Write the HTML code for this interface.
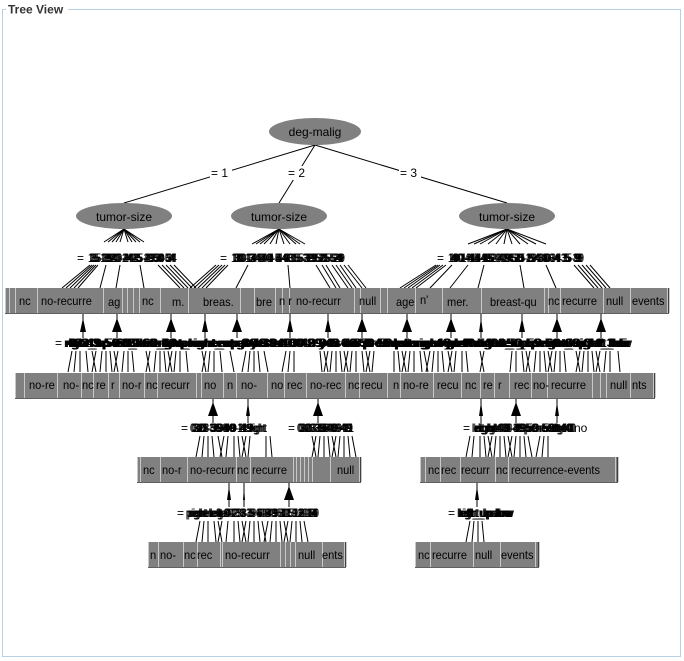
<!DOCTYPE html>
<html><head><meta charset="utf-8">
<style>
html,body{margin:0;padding:0;background:#fff;width:684px;height:661px;overflow:hidden}
svg{position:absolute;left:0;top:0}
text{font-family:"Liberation Sans",sans-serif}
</style></head><body>
<svg id="s" width="684" height="661" xmlns="http://www.w3.org/2000/svg">
<rect x="2.5" y="9.5" width="678" height="647" fill="none" stroke="#b8d0e4"/>
<rect x="6" y="2" width="62" height="14" fill="#fff"/>
<text x="8" y="13.5" font-size="12" font-weight="bold" fill="#333">Tree View</text>
<g id="lines" stroke="#000" stroke-width="1" fill="none"></g>
<g id="boxes"></g>
<g id="arrows" fill="#000"></g>
<ellipse cx="315" cy="131.5" rx="46" ry="13.5" fill="#808080"/>
<text x="315" y="136" font-size="12" text-anchor="middle">deg-malig</text>
<ellipse cx="124" cy="216" rx="48" ry="13" fill="#808080"/>
<text x="124" y="221" font-size="12" text-anchor="middle">tumor-size</text>
<ellipse cx="279" cy="216" rx="48" ry="13" fill="#808080"/>
<text x="279" y="221" font-size="12" text-anchor="middle">tumor-size</text>
<ellipse cx="507" cy="216" rx="48" ry="13" fill="#808080"/>
<text x="507" y="221" font-size="12" text-anchor="middle">tumor-size</text>
<g font-size="12" fill="#000">
<rect x="210" y="166" width="22" height="14" fill="#fff"/><text x="211" y="177">= 1</text>
<rect x="288" y="166" width="20" height="14" fill="#fff"/><text x="288" y="177">= 2</text>
<rect x="399" y="166" width="22" height="14" fill="#fff"/><text x="400" y="177">= 3</text>
</g>
<g id="lbl" font-size="12" fill="#000">
<text x="77" y="262">=</text>
<text x="88" y="262" textLength="87" lengthAdjust="spacingAndGlyphs">15-1920-2425-2930-34</text>
<text x="90" y="262" textLength="84" lengthAdjust="spacingAndGlyphs">35-3940-4445-4950-54</text>
<text x="220" y="262">=</text>
<text x="231" y="262" textLength="112" lengthAdjust="spacingAndGlyphs">10-14 0-4 5-9 15-19 25-29</text>
<text x="233" y="262" textLength="108" lengthAdjust="spacingAndGlyphs">30-3440-4435-3950-54</text>
<text x="437" y="262">=</text>
<text x="448" y="262" textLength="134" lengthAdjust="spacingAndGlyphs">10-1415-1920-24 25-29 30-34 35-39</text>
<text x="450" y="262" textLength="130" lengthAdjust="spacingAndGlyphs">40-4445-4950-54 0-4 5-9</text>
<text x="55" y="347">=</text>
<text x="64" y="347" textLength="566" lengthAdjust="spacingAndGlyphs">right_up left_low right_low central yes no 30-39 40-49 50-59 premeno ge40 lt40 left_up right_up left_low</text>
<text x="66" y="347" textLength="562" lengthAdjust="spacingAndGlyphs">40-49 50-59 60-69 premeno ge40 lt40 0-2 3-5 6-8 9-11 left right yes no left_up central right_low</text>
<text x="68" y="347" textLength="558" lengthAdjust="spacingAndGlyphs">0-2 3-5 6-8 left_low right_up 30-39 40-49 yes no premeno ge40 left right 50-59 60-69 0-2 3-5</text>
<text x="181" y="432">=</text>
<text x="190" y="432" textLength="75" lengthAdjust="spacingAndGlyphs">0-23-56-8 9-11 right</text>
<text x="192" y="432" textLength="60" lengthAdjust="spacingAndGlyphs">30-3940-49</text>
<text x="288" y="432">=</text>
<text x="297" y="432" textLength="55" lengthAdjust="spacingAndGlyphs">0-23-56-89-11</text>
<text x="299" y="432" textLength="52" lengthAdjust="spacingAndGlyphs">30-3940-49</text>
<text x="463" y="432">=</text>
<text x="472" y="432" textLength="102" lengthAdjust="spacingAndGlyphs">left right 30-39 premeno ge40</text>
<text x="474" y="432" textLength="98" lengthAdjust="spacingAndGlyphs">right40-4950-59lt40</text>
<text x="574" y="432">no</text>
<text x="177" y="517">=</text>
<text x="186" y="517" textLength="131" lengthAdjust="spacingAndGlyphs">premeno ge40 30-39 40-49 50-59 60-69</text>
<text x="188" y="517" textLength="128" lengthAdjust="spacingAndGlyphs">right left 0-2 3-5 6-8 9-11 12-14</text>
<text x="448" y="517">=</text>
<text x="457" y="517" textLength="55" lengthAdjust="spacingAndGlyphs">left_up low</text>
<text x="459" y="517" textLength="52" lengthAdjust="spacingAndGlyphs">right_lowlow</text>
</g>
<g id="btxt" font-size="12" fill="#000">
<text x="19" y="305">nc</text><text x="41" y="305">no-recurre</text><text x="108" y="306">ag</text>
<text x="142" y="305">nc</text><text x="172" y="306">m.</text><text x="203" y="306">breas.</text>
<text x="256" y="306">bre</text><text x="279" y="305">n r</text><text x="296" y="305">no-recurr</text>
<text x="359" y="305">null</text><text x="396" y="306">age</text><text x="420" y="304">n'</text>
<text x="447" y="306">mer.</text><text x="490" y="306">breast-qu</text><text x="548" y="305">nc</text>
<text x="562" y="305">recurre</text><text x="606" y="305">null</text><text x="632" y="305">events</text>
<text x="29" y="389">no-re</text><text x="63" y="389">no-</text><text x="82" y="389">nc</text>
<text x="96" y="389">re</text><text x="111" y="389">r</text><text x="122" y="389">no-r</text>
<text x="146" y="389">nc</text><text x="161" y="389">recurr</text><text x="204" y="389">no</text>
<text x="227" y="389">n</text><text x="241" y="389">no-</text><text x="271" y="389">no</text>
<text x="287" y="389">rec</text><text x="310" y="389">no-rec</text><text x="348" y="389">nc</text>
<text x="361" y="389">recu</text><text x="393" y="389">n</text><text x="403" y="389">no-re</text>
<text x="437" y="389">recu</text><text x="465" y="389">nc</text><text x="483" y="389">re</text>
<text x="498" y="389">r</text><text x="514" y="389">rec</text><text x="533" y="389">no-</text>
<text x="551" y="389">recurre</text><text x="610" y="389">null</text><text x="632" y="389">nts</text>
<text x="143" y="474">nc</text><text x="162" y="474">no-r</text><text x="190" y="474">no-recurr</text>
<text x="237" y="474">nc</text><text x="252" y="474">recurre</text><text x="337" y="474">null</text>
<text x="428" y="474">nc</text><text x="441" y="474">rec</text><text x="461" y="474">recurr</text>
<text x="496" y="474">nc</text><text x="511" y="474">recurrence-events</text>
<text x="150" y="559">n</text><text x="160" y="559">no-</text><text x="184" y="559">nc</text>
<text x="197" y="559">rec</text><text x="225" y="559">no-recurr</text><text x="298" y="559">null</text>
<text x="322" y="559">ents</text>
<text x="418" y="559">nc</text><text x="432" y="559">recurre</text><text x="475" y="559">null</text>
<text x="501" y="559">events</text>
</g>
</svg>
<script>
var NS="http://www.w3.org/2000/svg";
function el(p,t,a){var e=document.createElementNS(NS,t);for(var k in a)e.setAttribute(k,a[k]);document.getElementById(p).appendChild(e);return e;}
function ln(x1,y1,x2,y2){el("lines","line",{x1:x1,y1:y1,x2:x2,y2:y2});}
ln(315,145,124,203);ln(315,145,279,203);ln(315,145,507,203);
function fan(cx,cy,xs,y){xs.forEach(function(x){ln(cx,cy,x,y);});}
fan(124,229,[104,108,112,116,120,128,132,136,140,144],242);
fan(279,229,[252,256,260,264,270,276,284,290,296,300,305],244);
fan(507,229,[468,474,480,488,496,504,512,520,528,536,546],244);
function seg(pairs,y1,y2){pairs.forEach(function(p){ln(p[0],y1,p[1],y2);});}
seg([[90,62],[92,66],[94,70],[96,74],[98,78],[106,100],[120,116],[140,144],[158,180],[162,184],[166,188],[170,192],[174,196]],265,288);
seg([[216,190],[219,194],[222,198],[225,202],[228,206],[248,236],[288,290],[316,330],[322,336],[326,340],[332,348],[336,352],[340,356],[344,362],[348,366]],265,288);
seg([[436,400],[438,404],[440,408],[443,412],[446,416],[452,430],[468,450],[484,478],[520,524],[546,556],[574,594],[578,598],[582,602],[586,606],[590,610]],265,288);
var xs3=[72,76,80,86,92,96,102,106,110,114,118,124,128,132,146,150,156,160,164,168,172,176,180,186,202,206,210,214,220,230,246,250,254,258,264,286,290,294,320,324,328,332,336,340,344,348,352,356,362,366,370,374,394,398,402,406,410,414,420,424,430,434,438,442,448,452,456,462,466,480,484,512,516,522,526,530,536,540,544,548,552,556,560,564,576,580,584,588,592,596,600,606,610,618];
xs3.forEach(function(x,i){var d=((i%5)-2)*2;ln(x,351,x+d,372);});
var xs4=[200,204,208,212,218,224,228,234,238,242,246,250,266,270,312,316,320,324,328,332,336,340,344,348,352,470,474,480,484,488,492,496,500,504,508,512,516,520,524,528,540,544,548];
xs4.forEach(function(x,i){var d=((i%5)-2)*2;ln(x,436,x+d,457);});
var xs5=[200,204,208,214,218,222,228,234,238,242,246,250,254,258,262,268,272,276,280,284,288,292,296,300,304,470,474,478,482];
xs5.forEach(function(x,i){var d=((i%5)-2)*2;ln(x,521,x+d,542);});
[83,117,171,205,237,290,328,362,407,451,481,522,557,601].forEach(function(x){ln(x,313,x,338);});
[213,248,318,481,516,557].forEach(function(x){ln(x,398,x,423);});
[229,244,289,477].forEach(function(x){ln(x,482,x,507);});
function arr(x,y,w,h){el("arrows","polygon",{points:(x-w)+","+(y+h)+" "+x+","+y+" "+(x+w)+","+(y+h)});}
[[83,3],[117,5],[171,5],[205,3],[237,5],[290,3],[328,3],[362,5],[407,5],[451,5],[481,2],[522,3],[557,5],[601,5]].forEach(function(a){arr(a[0],318,a[1],14);});
[[213,5],[248,2],[318,5],[481,2],[516,5],[557,2]].forEach(function(a){arr(a[0],402,a[1],14);});
[[229,2],[244,1],[289,5],[477,2]].forEach(function(a){arr(a[0],486,a[1],14);});
function row(y,h,segs){
 for(var i=0;i<segs.length-1;i++){
  el("boxes","rect",{x:segs[i],y:y,width:segs[i+1]-segs[i],height:h,fill:"#808080"});
 }
 for(var i=0;i<segs.length;i++){
  el("boxes","line",{x1:segs[i]+0.5,y1:y,x2:segs[i]+0.5,y2:y+h,stroke:"#c8c8c8"});
 }
 el("boxes","line",{x1:segs[segs.length-1]-0.5,y1:y,x2:segs[segs.length-1]-0.5,y2:y+h,stroke:"#404040"});
 el("boxes","line",{x1:segs[0],y1:y+h+0.5,x2:segs[segs.length-1],y2:y+h+0.5,stroke:"#606060"});
}
row(288,25,[5,9,15,37,103,122,127,133,139,160,188,240,254,275,282,289,354,360,380,387,415,442,481,544,548,560,603,630,667,669]);
row(373,25,[15,24,57,81,93,108,119,144,157,196,201,223,236,267,284,306,345,359,387,400,433,461,480,494,509,531,547,592,600,606,630,653,655]);
row(457,25,[137,140,160,187,236,250,293,296,300,304,308,312,330,359,361]);
row(457,25,[420,425,440,460,495,508,615,618]);
row(542,25,[148,158,183,197,220,222,280,285,290,295,322,344,346]);
row(542,25,[415,430,473,500,535,539]);
// darken label smears
var lbl=document.getElementById("lbl");
Array.prototype.slice.call(lbl.querySelectorAll("text")).forEach(function(t){
 if(t.textContent.length<3)return;
 [1,2].forEach(function(d){var c=t.cloneNode(true);c.setAttribute("x",parseFloat(t.getAttribute("x"))+d);lbl.appendChild(c);});
});
// condense box text
Array.prototype.slice.call(document.querySelectorAll("#btxt text")).forEach(function(t){
 var w=t.getComputedTextLength();t.setAttribute("textLength",(w*0.92).toFixed(1));t.setAttribute("lengthAdjust","spacingAndGlyphs");
});
var s=document.getElementById("s");s.appendChild(document.getElementById("btxt"));
</script>
</body></html>
